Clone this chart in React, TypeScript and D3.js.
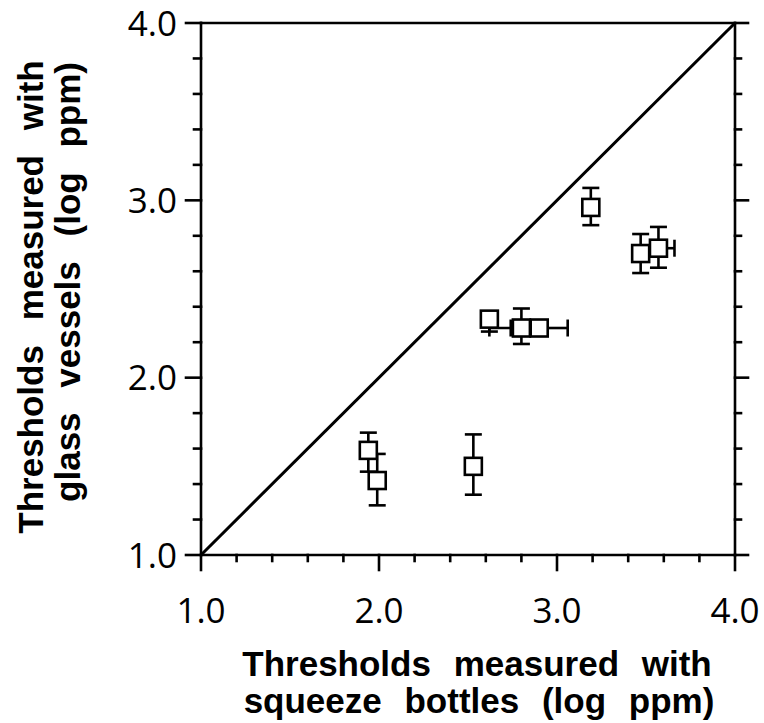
import React from 'react';
import * as d3 from 'd3';

// tick values (log ppm)
const majorTicks = [1.0, 2.0, 3.0, 4.0];
const minorTicks = d3.range(1.2, 4.0, 0.2).filter((v) => Math.abs(v - Math.round(v)) > 0.01);

// thresholds: squeeze bottles (x) vs glass vessels (y), drawn in this order
const pointX = [1.99, 1.94, 2.53, 2.9, 2.62, 2.8, 3.19, 3.57, 3.47];
const pointY = [1.42, 1.59, 1.5, 2.28, 2.33, 2.28, 2.96, 2.73, 2.7];
const yLow = [1.28, 1.47, 1.34, 2.28, 2.26, 2.19, 2.86, 2.62, 2.59];
const yHigh = [1.57, 1.69, 1.68, 2.28, 2.33, 2.39, 3.07, 2.85, 2.81];
const xLow = [1.99, 1.94, 2.53, 2.62, 2.62, 2.74, 3.19, 3.57, 3.47];
const xHigh = [1.99, 1.94, 2.53, 3.06, 2.62, 2.8, 3.19, 3.66, 3.47];

const W = 764;
const H = 723;
const margin = { top: 23, right: 29, bottom: 168, left: 201 };

export default function App() {
  const x = d3.scaleLinear().domain([1, 4]).range([margin.left, W - margin.right]);
  const y = d3.scaleLinear().domain([1, 4]).range([H - margin.bottom, margin.top]);
  const x0 = x(1), x1 = x(4), y0 = y(1), y1 = y(4);
  const sw = 2.6;
  const box = 17;
  const cap = 8.5;
  const tickFont = "'Open Sans', 'DejaVu Sans', sans-serif";
  const titleFont = "'Liberation Sans', Arial, sans-serif";

  return (
    <svg width={W} height={H} style={{ position: 'absolute', left: 0, top: 0 }}>
      <rect width={W} height={H} fill="#fff" />
      <g stroke="#000" strokeWidth={sw} fill="none" strokeLinecap="square">
        {/* frame */}
        <line x1={x0} y1={y1} x2={x1} y2={y1} />
        <line x1={x0} y1={y0} x2={x1} y2={y0} />
        <line x1={x0} y1={y0} x2={x0} y2={y1} />
        <line x1={x1} y1={y0} x2={x1} y2={y1} />
        {/* major ticks: left, bottom, right */}
        {majorTicks.map((t) => (
          <g key={'M' + t}>
            <line x1={x0 - 15} x2={x0} y1={y(t)} y2={y(t)} />
            <line x1={x1} x2={x1 + 13} y1={y(t)} y2={y(t)} />
            <line x1={x(t)} x2={x(t)} y1={y0} y2={y0 + 15} />
          </g>
        ))}
        {minorTicks.map((t) => (
          <g key={'m' + t}>
            <line x1={x0 - 7} x2={x0} y1={y(t)} y2={y(t)} />
            <line x1={x1} x2={x1 + 6} y1={y(t)} y2={y(t)} />
            <line x1={x(t)} x2={x(t)} y1={y0} y2={y0 + 6} />
          </g>
        ))}
        {/* identity line */}
        <line x1={x(1)} y1={y(1)} x2={x(4)} y2={y(4)} strokeWidth={3} strokeLinecap="butt" />
      </g>

      {/* points with error bars */}
      <g stroke="#000" strokeWidth={sw}>
        {pointX.map((px, i) => {
          const cx = x(px);
          const cy = y(pointY[i]);
          return (
            <g key={i}>
              {yHigh[i] > pointY[i] && (
                <g>
                  <line x1={cx} x2={cx} y1={cy} y2={y(yHigh[i])} />
                  <line x1={cx - cap} x2={cx + cap} y1={y(yHigh[i])} y2={y(yHigh[i])} />
                </g>
              )}
              {yLow[i] < pointY[i] && (
                <g>
                  <line x1={cx} x2={cx} y1={cy} y2={y(yLow[i])} />
                  <line x1={cx - cap} x2={cx + cap} y1={y(yLow[i])} y2={y(yLow[i])} />
                </g>
              )}
              {xHigh[i] > px && (
                <g>
                  <line x1={cx} x2={x(xHigh[i])} y1={cy} y2={cy} />
                  <line x1={x(xHigh[i])} x2={x(xHigh[i])} y1={cy - cap} y2={cy + cap} />
                </g>
              )}
              {xLow[i] < px && (
                <g>
                  <line x1={cx} x2={x(xLow[i])} y1={cy} y2={cy} />
                  <line x1={x(xLow[i])} x2={x(xLow[i])} y1={cy - cap} y2={cy + cap} />
                </g>
              )}
              <rect x={cx - box / 2} y={cy - box / 2} width={box} height={box} fill="#fff" />
            </g>
          );
        })}
      </g>

      {/* tick labels */}
      <g fontFamily={tickFont} fontSize={35} fill="#000">
        {majorTicks.map((t) => (
          <text key={'yl' + t} x={x0 - 24} y={y(t)} dy="0.36em" textAnchor="end">
            {d3.format('.1f')(t)}
          </text>
        ))}
        {majorTicks.map((t) => (
          <text key={'xl' + t} x={x(t)} y={y0 + 68} textAnchor="middle">
            {d3.format('.1f')(t)}
          </text>
        ))}
      </g>

      {/* axis titles */}
      <g fontFamily={titleFont} fontSize={35} fontWeight="bold" fill="#000" textAnchor="middle">
        <text x={477} y={676} style={{ wordSpacing: '13px' }}>Thresholds measured with</text>
        <text x={479} y={713} style={{ wordSpacing: '13px' }}>squeeze bottles (log ppm)</text>
        <text transform="translate(43,297) rotate(-90)" style={{ wordSpacing: '15px' }}>
          Thresholds measured with
        </text>
        <text transform="translate(80,282) rotate(-90)" style={{ wordSpacing: '15px' }}>
          glass vessels (log ppm)
        </text>
      </g>
    </svg>
  );
}
